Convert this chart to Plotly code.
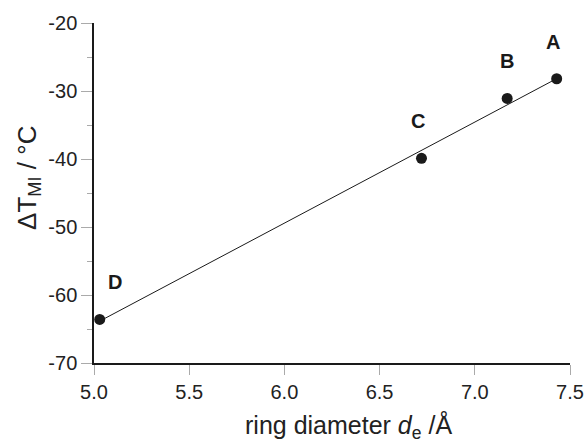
import numpy as np
import plotly.graph_objects as go

labels = ["A", "B", "C", "D"]
diameter = [7.43, 7.17, 6.72, 5.03]
delta_t = [-28.2, -31.1, -39.9, -63.6]

x_ticks = [5.0, 5.5, 6.0, 6.5, 7.0, 7.5]
y_ticks = [-70, -60, -50, -40, -30, -20]

slope, intercept = np.polyfit(diameter, delta_t, 1)
fx = np.array([min(diameter), max(diameter)])
fy = slope * fx + intercept

font = "Liberation Sans, Arial, sans-serif"

fig = go.Figure()
fig.add_trace(go.Scatter(x=fx, y=fy, mode="lines",
                         line=dict(color="#1a1a1a", width=1), showlegend=False))
fig.add_trace(go.Scatter(x=diameter, y=delta_t, mode="markers",
                         marker=dict(color="#1a1a1a", size=11), showlegend=False))

label_dx = [-4, 0, -3, 15]
for lab, x, y, dx in zip(labels, diameter, delta_t, label_dx):
    fig.add_annotation(x=x, y=y, text="<b>%s</b>" % lab, showarrow=False,
                       xshift=dx, yshift=37,
                       font=dict(family=font, size=20, color="#1a1a1a"))

# axis titles
fig.add_annotation(xref="paper", yref="paper", x=0.534, y=-0.186,
                   text="ring diameter <i>d</i><sub>e</sub> /Å", showarrow=False,
                   xanchor="center", yanchor="middle",
                   font=dict(family=font, size=25, color="#222222"))
fig.add_annotation(xref="paper", yref="paper", x=-0.139, y=0.544,
                   text="ΔT<sub>MI</sub> / °C", showarrow=False, textangle=-90,
                   xanchor="center", yanchor="middle",
                   font=dict(family=font, size=26, color="#222222"))

fig.update_layout(
    width=587, height=443,
    margin=dict(l=94, r=17, t=23, b=80, autoexpand=False),
    paper_bgcolor="white", plot_bgcolor="white",
    font=dict(family=font, size=20, color="#222222"),
)
fig.update_xaxes(
    range=[5.0, 7.5], tickvals=x_ticks, ticktext=["%.1f" % v for v in x_ticks],
    showgrid=False, zeroline=False, automargin=False,
    showline=True, linecolor="#1a1a1a", linewidth=1.5,
    ticks="outside", ticklen=10, tickcolor="#aaaaaa", tickwidth=1,
    tickfont=dict(size=20), ticklabelstandoff=0,
)
fig.update_yaxes(
    range=[-70, -20], tickvals=y_ticks, ticktext=["%d" % v for v in y_ticks],
    showgrid=False, zeroline=False, automargin=False,
    showline=True, linecolor="#1a1a1a", linewidth=1.5,
    ticks="outside", ticklen=11, tickcolor="#aaaaaa", tickwidth=1,
    tickfont=dict(size=20),
    minor=dict(dtick=5, tick0=-25, ticks="outside", ticklen=5,
               tickcolor="#aaaaaa", tickwidth=1, showgrid=False),
)

fig.write_html("out.html")
